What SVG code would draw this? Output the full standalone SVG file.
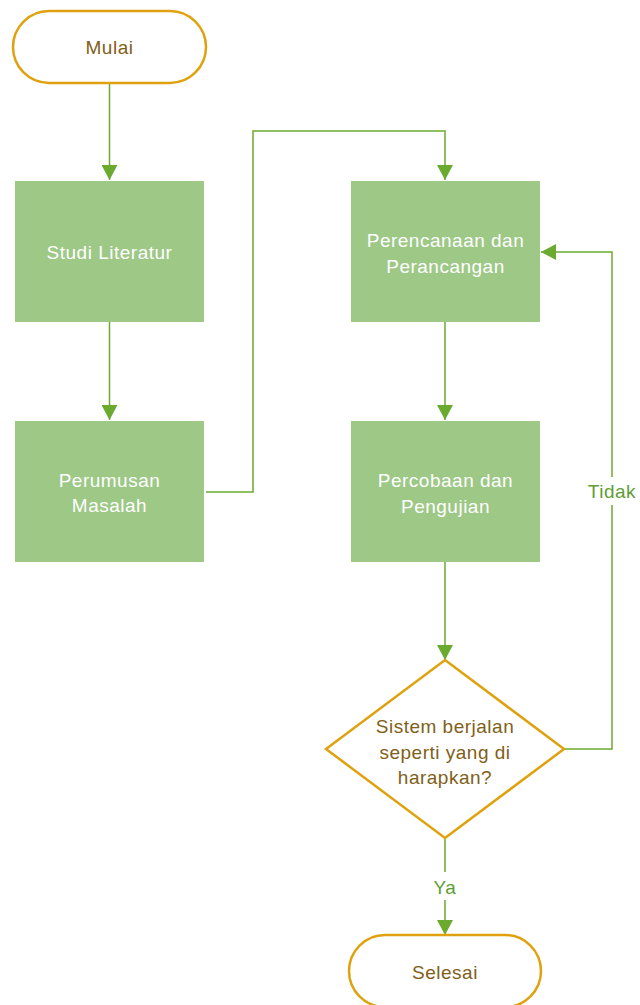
<svg xmlns="http://www.w3.org/2000/svg" width="640" height="1005" viewBox="0 0 640 1005">
  <defs>
    <marker id="arrow" viewBox="0 0 15 16" refX="15" refY="8" markerWidth="15" markerHeight="16" markerUnits="userSpaceOnUse" orient="auto">
      <path d="M0,0 L15,8 L0,16 Z" fill="#6AAA2F"/>
    </marker>
    <style>
      .term { fill: #ffffff; stroke: #DFA20E; stroke-width: 2.5; }
      .proc { fill: #9DC886; }
      .dec { fill: #ffffff; stroke: #DFA20E; stroke-width: 2.5; }
      .conn { fill: none; stroke: #6AAA2F; stroke-width: 1.5; }
      text { font-family: "Liberation Sans", Arial, sans-serif; font-size: 19px; text-anchor: middle; letter-spacing: 0.5px; }
      .dark { fill: #7F6018; }
      .light { fill: #ffffff; }
      .lbl { fill: #5E9E35; }
    </style>
  </defs>

  <!-- connectors -->
  <g id="connectors">
    <path class="conn" d="M109.5,84 V180" marker-end="url(#arrow)"/>
    <path class="conn" d="M109.5,322 V420" marker-end="url(#arrow)"/>
    <path class="conn" d="M206,492 H253 V131 H445 V180" marker-end="url(#arrow)"/>
    <path class="conn" d="M445,322 V420" marker-end="url(#arrow)"/>
    <path class="conn" d="M445,562 V660" marker-end="url(#arrow)"/>
    <path class="conn" d="M564,749 H612 V252 H541" marker-end="url(#arrow)"/>
    <path class="conn" d="M445,838 V935" marker-end="url(#arrow)"/>
    <rect x="585" y="477" width="55" height="28" fill="#ffffff"/>
    <text class="lbl" x="612" y="498">Tidak</text>
    <rect x="429" y="872" width="32" height="28" fill="#ffffff"/>
    <text class="lbl" x="445" y="894">Ya</text>
  </g>

  <g id="mulai">
    <rect class="term" x="13" y="11" width="193" height="72" rx="36" ry="36"/>
    <text class="dark" x="109.5" y="54">Mulai</text>
  </g>

  <g id="studi-literatur">
    <rect class="proc" x="15" y="181" width="189" height="141"/>
    <text class="light" x="109.5" y="259">Studi Literatur</text>
  </g>

  <g id="perumusan-masalah">
    <rect class="proc" x="15" y="421" width="189" height="141"/>
    <text class="light" x="109.5" y="487">Perumusan</text>
    <text class="light" x="109.5" y="512">Masalah</text>
  </g>

  <g id="perencanaan">
    <rect class="proc" x="351" y="181" width="189" height="141"/>
    <text class="light" x="445.5" y="247">Perencanaan dan</text>
    <text class="light" x="445.5" y="273">Perancangan</text>
  </g>

  <g id="percobaan">
    <rect class="proc" x="351" y="421" width="189" height="141"/>
    <text class="light" x="445.5" y="487">Percobaan dan</text>
    <text class="light" x="445.5" y="513">Pengujian</text>
  </g>

  <g id="keputusan">
    <polygon class="dec" points="445,660 564,749 445,838 326,749"/>
    <text class="dark" x="445" y="733">Sistem berjalan</text>
    <text class="dark" x="445" y="759">seperti yang di</text>
    <text class="dark" x="445" y="784">harapkan?</text>
  </g>

  <g id="selesai">
    <rect class="term" x="349" y="935" width="192" height="72" rx="36" ry="36"/>
    <text class="dark" x="445" y="979">Selesai</text>
  </g>
</svg>
